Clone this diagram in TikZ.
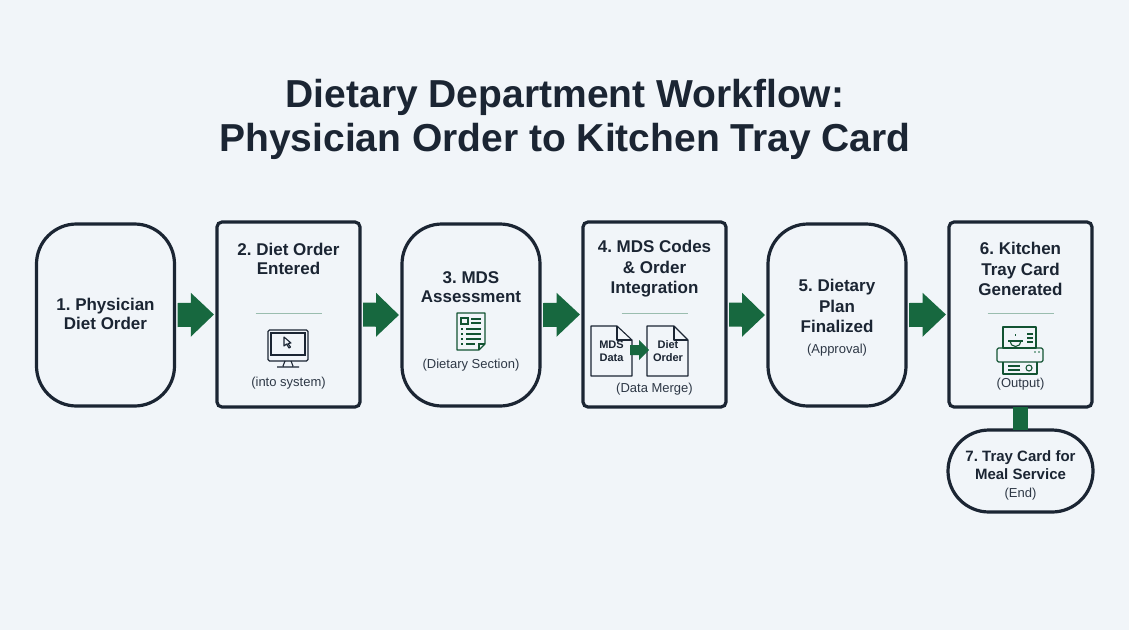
\documentclass[tikz,border=0pt]{standalone}
\usepackage{fontspec}
\setmainfont{Liberation Sans}
\usetikzlibrary{calc}
\definecolor{bg}{HTML}{F1F5F9}
\definecolor{ink}{HTML}{1B2533}
\definecolor{grn}{HTML}{17683F}
\colorlet{sep}{grn!40!bg}
\definecolor{sub}{HTML}{2E3846}
\frenchspacing
\begin{document}
\begin{tikzpicture}[x=1pt,y=-1pt,
  box/.style={draw=ink,line width=3.2pt,fill=bg,minimum width=#1,inner sep=0pt},
  rnd/.style={box=138pt,minimum height=182pt,rounded corners=40pt},
  sq/.style={box=143pt,minimum height=185pt,rounded corners=5pt},
  lbl/.style={font=\bfseries\fontsize{17}{19.5}\selectfont,text=ink,align=center},
  sm/.style={font=\fontsize{13}{15}\selectfont,text=sub,align=center},
  ic/.style={draw=grn!80!black,line width=1.1pt}]
\fill[bg] (0,0) rectangle (1129,630);
\useasboundingbox (0,0) rectangle (1129,630);
\node[font=\bfseries\fontsize{39}{44}\selectfont,text=ink,align=center] (title) at (565,119) {Dietary Department Workflow:\\Physician Order to Kitchen Tray Card};
% connector 6-7 (behind boxes)
\fill[grn] (1013,400) rectangle (1028,438);
% boxes
\node[rnd] (b1) at (105.5,315) {};
\node[sq] (b2) at (288.5,314.5) {};
\node[rnd] (b3) at (471,315) {};
\node[sq] (b4) at (654.5,314.5) {};
\node[rnd] (b5) at (837,315) {};
\node[sq] (b6) at (1020.5,314.5) {};
\node[draw=ink,line width=3.2pt,fill=bg,minimum width=145pt,minimum height=82pt,rounded corners=41pt] (b7) at (1020.5,471) {};
\fill[grn] ($(b6.south)+(-7.5,-1.6)$) rectangle ($(b7.north)+(7.5,1.6)$);
% arrows
\foreach \a/\b in {b1/b2,b2/b3,b3/b4,b4/b5,b5/b6}{
  \coordinate (m) at ($(\a.east)!0.5!(\b.west)$);
  \fill[grn] ($(\a.east)+(1.5,-12)$) -- ($(m)+(-5,-12)$) -- ($(m)+(-5,-22)$) -- ($(\b.west)+(-1.5,0)$) -- ($(m)+(-5,22)$) -- ($(m)+(-5,12)$) -- ($(\a.east)+(1.5,12)$) -- cycle;}
% texts
\node[lbl] (t1) at (105.5,314) {1. Physician\\Diet Order};
\node[lbl] (t2) at (288.5,259) {2. Diet Order\\Entered};
\node[sm] (s2) at (288.5,383) {(into system)};
\node[lbl] (t3) at (471,287) {3. MDS\\Assessment};
\node[sm] (s3) at (471,365) {(Dietary Section)};
\node[lbl,font=\bfseries\fontsize{17}{20.5}\selectfont] (t4) at (654.5,269) {4. MDS Codes\\\& Order\\Integration};
\node[sm] (s4) at (654.5,389) {(Data Merge)};
\node[lbl,font=\bfseries\fontsize{17}{20.5}\selectfont] (t5) at (837,306) {5. Dietary\\Plan\\Finalized};
\node[sm] (s5) at (837,350) {(Approval)};
\node[lbl,font=\bfseries\fontsize{17}{20.5}\selectfont] (t6) at (1020.5,269) {6. Kitchen\\Tray Card\\Generated};
\node[sm] (s6) at (1020.5,384) {(Output)};
\node[lbl,font=\bfseries\fontsize{15}{18}\selectfont] (t7) at (1020.5,465) {7. Tray Card for\\Meal Service};
\node[sm] (s7) at (1020.5,494) {(End)};
% separators
\foreach \x in {288.5,654.5,1020.5} \draw[sep,line width=1.6pt] (\x-33,313.5) -- (\x+33,313.5);
% monitor icon
\begin{scope}[ink,line width=1.1pt]
\draw[rounded corners=1.5pt] (268,330) rectangle (308,361);
\draw (271,333) rectangle (305,355);
\draw (285,361) -- (283,366) (291,361) -- (293,366) (277,367) -- (299,367);
\draw[line join=round] (284,337) -- (284,346) -- (286.5,344) -- (289,348) -- (290.5,347) -- (288,343.5) -- (291,343) -- cycle;
\end{scope}
% document icon
\begin{scope}[ic]
\draw[line join=round] (457,313) -- (485,313) -- (485,344) -- (479,350) -- (457,350) -- cycle;
\draw (479,350) -- (479,344) -- (485,344);
\draw (461,318) rectangle (468,324);
\draw (471,319) -- (481,319) (471,323) -- (481,323);
\foreach \y in {329,334,339}{\draw (461,\y) -- (463,\y); \draw (466,\y) -- (481,\y);}
\draw (461,344) -- (463,344) (466,344) -- (475,344);
\end{scope}
% data merge icons
\begin{scope}[ink,line width=1.1pt,line join=round]
\draw (591,326) -- (617,326) -- (632,340) -- (632,376) -- (591,376) -- cycle;
\draw (617,326) -- (617,340) -- (632,340);
\draw (647,326) -- (674,326) -- (688,340) -- (688,376) -- (647,376) -- cycle;
\draw (674,326) -- (674,340) -- (688,340);
\end{scope}
\node[font=\bfseries\fontsize{11}{12.5}\selectfont,text=ink,align=center] (m1) at (611.5,351) {MDS\\Data};
\node[font=\bfseries\fontsize{11}{12.5}\selectfont,text=ink,align=center] (m2) at (668,351) {Diet\\Order};
\fill[grn] (630,345) -- (639,345) -- (639,340) -- (649,350) -- (639,360) -- (639,355) -- (630,355) -- cycle;
% printer icon
\begin{scope}[ic,line join=round]
\draw (1003,327) rectangle (1036,348);
\draw (1008,341) -- (1023,341);
\draw (1010,341) arc (180:0:5.5);
\draw (1015.5,335.5) -- (1015.5,334);
\draw (1027,334) -- (1033,334) (1027,338) -- (1033,338) (1027,342) -- (1033,342);
\draw[rounded corners=1.5pt] (997,348) rectangle (1043,362);
\draw (1003,362) -- (1003,374) -- (1037,374) -- (1037,362);
\draw (1008,366) -- (1020,366) (1008,370) -- (1020,370);
\draw (1029,368) circle (3);
\fill[grn] (1035,352) circle (0.9) (1039,352) circle (0.9);
\end{scope}
\end{tikzpicture}
\end{document}
